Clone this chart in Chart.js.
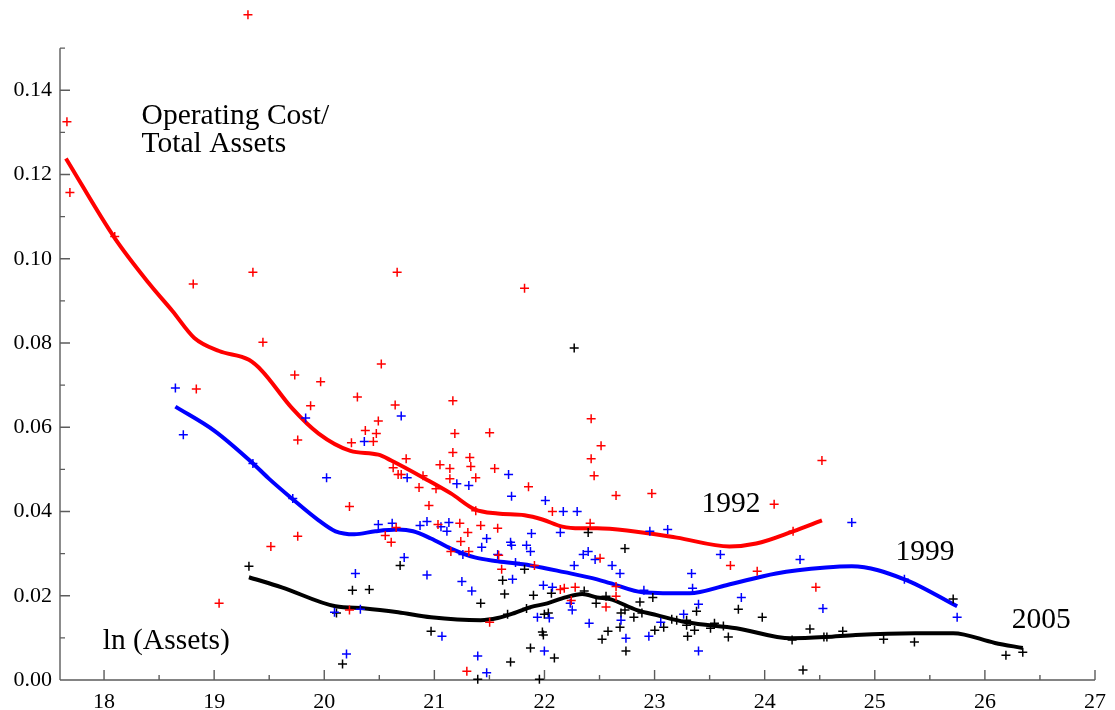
<!DOCTYPE html>
<html>
<head>
<meta charset="utf-8">
<script src="https://cdn.jsdelivr.net/npm/chart.js@4.4.1/dist/chart.umd.min.js"></script>
<style>
  html, body { margin: 0; padding: 0; background: #ffffff; }
  #wrap { width: 1115px; height: 710px; }
</style>
</head>
<body>
<div id="wrap"><canvas id="c" width="1115" height="710"></canvas></div>
<script>
// ---------- data ----------
const xTicks = [18, 19, 20, 21, 22, 23, 24, 25, 26, 27];
const yTicks = [0, 0.02, 0.04, 0.06, 0.08, 0.10, 0.12, 0.14];

// 1992 scatter
const pts1992X = [17.663,17.690,18.097,18.810,18.838,19.045,19.307,19.352,19.443,19.515,19.732,19.759,19.759,19.876,19.967,20.229,20.229,20.247,20.301,20.373,20.446,20.473,20.491,20.518,20.644,20.554,20.608,20.626,20.653,20.671,20.699,20.662,20.744,20.861,20.897,20.951,21.015,21.033,21.051,21.141,21.141,21.150,21.168,21.168,21.186,21.231,21.240,21.304,21.313,21.322,21.331,21.295,21.376,21.376,21.421,21.502,21.502,21.548,21.575,21.584,21.611,21.819,21.855,21.909,22.072,22.144,22.180,22.243,22.279,22.415,22.424,22.424,22.451,22.505,22.514,22.559,22.650,22.650,22.650,22.975,23.689,23.932,24.086,24.258,24.465,24.520];
const pts1992Y = [0.1325,0.1157,0.1053,0.0940,0.0691,0.0182,0.1579,0.0968,0.0802,0.0317,0.0724,0.0570,0.0341,0.0651,0.0708,0.0412,0.0166,0.0563,0.0672,0.0592,0.0566,0.0585,0.0615,0.0750,0.0653,0.0343,0.0327,0.0504,0.0362,0.0488,0.0488,0.0968,0.0525,0.0457,0.0485,0.0414,0.0454,0.0369,0.0511,0.0502,0.0478,0.0305,0.0663,0.0540,0.0585,0.0372,0.0329,0.0350,0.0305,0.0528,0.0507,0.0021,0.0402,0.0480,0.0367,0.0587,0.0137,0.0502,0.0360,0.0296,0.0263,0.0930,0.0459,0.0272,0.0400,0.0215,0.0218,0.0189,0.0220,0.0372,0.0620,0.0525,0.0485,0.0289,0.0556,0.0173,0.0222,0.0199,0.0438,0.0443,0.0272,0.0258,0.0417,0.0353,0.0220,0.0521];

// 1999 scatter
const pts1999X = [18.648,18.720,19.352,19.714,19.831,20.021,20.093,20.202,20.283,20.328,20.364,20.491,20.617,20.699,20.726,20.753,20.870,20.933,20.933,21.060,21.069,21.114,21.132,21.204,21.250,21.259,21.313,21.340,21.394,21.430,21.475,21.475,21.575,21.674,21.692,21.701,21.701,21.710,21.737,21.837,21.873,21.882,21.936,21.990,21.999,22.008,22.044,22.072,22.144,22.171,22.234,22.252,22.270,22.297,22.352,22.397,22.406,22.460,22.614,22.686,22.695,22.740,22.903,22.948,22.957,23.056,23.119,23.264,23.336,23.345,23.399,23.399,23.598,23.788,24.321,24.529,24.791,25.269,25.748];
const pts1999Y = [0.0693,0.0582,0.0514,0.0431,0.0622,0.0480,0.0161,0.0062,0.0253,0.0168,0.0566,0.0369,0.0372,0.0627,0.0291,0.0480,0.0367,0.0376,0.0249,0.0364,0.0104,0.0353,0.0374,0.0466,0.0234,0.0298,0.0462,0.0211,0.0057,0.0315,0.0336,0.0017,0.0298,0.0488,0.0327,0.0320,0.0436,0.0239,0.0279,0.0320,0.0305,0.0348,0.0149,0.0225,0.0069,0.0426,0.0147,0.0220,0.0350,0.0400,0.0182,0.0166,0.0272,0.0400,0.0298,0.0305,0.0135,0.0286,0.0272,0.0253,0.0142,0.0099,0.0213,0.0104,0.0353,0.0137,0.0357,0.0156,0.0253,0.0218,0.0180,0.0069,0.0298,0.0196,0.0286,0.0170,0.0374,0.0239,0.0149];

// 2005 scatter
const pts2005X = [19.316,20.111,20.166,20.256,20.409,20.689,20.970,21.394,21.421,21.620,21.638,21.665,21.692,21.819,21.837,21.873,21.900,21.954,21.981,21.990,21.999,22.035,22.063,22.090,22.270,22.361,22.397,22.469,22.523,22.559,22.577,22.686,22.695,22.731,22.731,22.740,22.812,22.867,22.885,22.984,23.002,23.083,23.156,23.201,23.291,23.291,23.300,23.363,23.381,23.508,23.544,23.625,23.670,23.761,23.978,24.249,24.348,24.411,24.538,24.565,24.709,25.080,25.360,25.712,26.191,26.344];
const pts2005Y = [0.0270,0.0159,0.0038,0.0213,0.0215,0.0272,0.0116,0.0002,0.0182,0.0237,0.0204,0.0156,0.0043,0.0263,0.0170,0.0076,0.0201,0.0002,0.0114,0.0107,0.0156,0.0159,0.0206,0.0052,0.0788,0.0211,0.0350,0.0182,0.0097,0.0199,0.0116,0.0125,0.0159,0.0312,0.0166,0.0069,0.0149,0.0185,0.0159,0.0196,0.0118,0.0125,0.0144,0.0142,0.0142,0.0130,0.0104,0.0118,0.0163,0.0123,0.0135,0.0128,0.0102,0.0168,0.0149,0.0095,0.0024,0.0121,0.0102,0.0102,0.0116,0.0097,0.0090,0.0192,0.0059,0.0066];

// smoothed fits
const fit1992X = [17.654,18.097,18.413,18.621,18.820,19.045,19.316,19.434,19.705,19.949,20.238,20.491,20.608,20.915,21.150,21.367,21.575,21.819,21.981,22.162,22.325,22.478,22.749,23.201,23.680,23.923,24.258,24.520];
const fit1992Y = [0.1238,0.1049,0.0940,0.0876,0.0812,0.0781,0.0760,0.0734,0.0646,0.0585,0.0544,0.0535,0.0521,0.0478,0.0443,0.0405,0.0395,0.0391,0.0381,0.0364,0.0360,0.0360,0.0355,0.0338,0.0317,0.0324,0.0353,0.0379];

const fit1999X = [18.648,19.000,19.353,19.497,19.705,19.949,20.102,20.274,20.464,20.671,20.807,20.969,21.150,21.367,21.575,21.873,22.180,22.478,22.596,22.903,23.318,23.652,24.104,24.556,24.791,25.269,25.748];
const fit1999Y = [0.0649,0.0592,0.0514,0.0478,0.0431,0.0379,0.0353,0.0346,0.0353,0.0357,0.0353,0.0336,0.0312,0.0291,0.0282,0.0272,0.0256,0.0239,0.0230,0.0208,0.0206,0.0225,0.0253,0.0267,0.0270,0.0239,0.0175];

const fit2005X = [19.316,19.614,20.102,20.373,20.671,20.969,21.421,21.575,21.728,21.873,22.026,22.189,22.343,22.478,22.596,22.840,23.020,23.291,23.743,24.240,24.556,24.827,25.369,25.712,26.091,26.344];
const fit2005Y = [0.0244,0.0220,0.0175,0.0170,0.0161,0.0149,0.0142,0.0147,0.0159,0.0173,0.0182,0.0196,0.0204,0.0196,0.0192,0.0166,0.0154,0.0137,0.0123,0.0099,0.0102,0.0107,0.0111,0.0111,0.0088,0.0076];

// text labels: [text, x, baseline y] in data units
const labels = [
  ['Operating Cost/', 18.341, 0.1321],
  ['Total Assets', 18.341, 0.1254],
  ['1992', 23.427, 0.0400],
  ['1999', 25.188, 0.0284],
  ['2005', 26.245, 0.0123],
  ['ln (Assets)', 17.988, 0.0073]
];

// ---------- chart ----------
const SERIF = '"Liberation Serif", "Times New Roman", serif';
const AXIS_COLOR = '#5c5c5c';
const zip = (xs, ys) => xs.map((x, i) => ({ x: x, y: ys[i] }));

function ptsSet(xs, ys, color) {
  return { data: zip(xs, ys), showLine: false, pointStyle: 'cross', pointRadius: 4.5,
           pointBorderColor: color, borderColor: color, pointBorderWidth: 1.5,
           pointHoverRadius: 4.5, clip: false, order: 0 };
}
function fitSet(xs, ys, color) {
  return { data: zip(xs, ys), showLine: true, pointRadius: 0, borderColor: color,
           borderWidth: 4, cubicInterpolationMode: 'monotone', fill: false,
           borderCapStyle: 'butt', borderJoinStyle: 'round', clip: false, order: 1 };
}

const axesPlugin = {
  id: 'mmaAxes',
  beforeDatasetsDraw(chart) {
    const ctx = chart.ctx, xs = chart.scales.x, ys = chart.scales.y;
    const x0 = xs.left, y0 = ys.getPixelForValue(0);
    ctx.save();
    ctx.strokeStyle = AXIS_COLOR;
    ctx.lineWidth = 1.4;
    ctx.beginPath();
    ctx.moveTo(x0, y0); ctx.lineTo(xs.getPixelForValue(27), y0);
    ctx.moveTo(x0, y0); ctx.lineTo(x0, ys.getPixelForValue(0.15));
    for (let v = 18; v <= 27.001; v += 0.5) {
      const p = xs.getPixelForValue(v);
      const len = Math.abs(v - Math.round(v)) < 1e-6 ? 10 : 5;
      ctx.moveTo(p, y0); ctx.lineTo(p, y0 - len);
    }
    for (let k = 1; k <= 15; k++) {
      const v = k * 0.01;
      const p = ys.getPixelForValue(v);
      const len = (k % 2 === 0) ? 10 : 5;
      ctx.moveTo(x0, p); ctx.lineTo(x0 + len, p);
    }
    ctx.stroke();
    ctx.restore();
  },
  afterDatasetsDraw(chart) {
    const ctx = chart.ctx, xs = chart.scales.x, ys = chart.scales.y;
    ctx.save();
    ctx.fillStyle = '#000';
    ctx.font = '29.5px ' + SERIF;
    ctx.textAlign = 'left';
    ctx.textBaseline = 'alphabetic';
    labels.forEach(([t, x, y]) => ctx.fillText(t, xs.getPixelForValue(x), ys.getPixelForValue(y)));
    ctx.restore();
  }
};

new Chart(document.getElementById('c'), {
  type: 'scatter',
  data: {
    datasets: [
      ptsSet(pts1992X, pts1992Y, '#ff0000'),
      ptsSet(pts1999X, pts1999Y, '#0000ff'),
      ptsSet(pts2005X, pts2005Y, '#000000'),
      fitSet(fit1992X, fit1992Y, '#ff0000'),
      fitSet(fit1999X, fit1999Y, '#0000ff'),
      fitSet(fit2005X, fit2005Y, '#000000')
    ]
  },
  options: {
    responsive: false,
    animation: false,
    devicePixelRatio: 1,
    layout: { padding: { top: 4, right: 14, left: 0, bottom: 0 } },
    plugins: { legend: { display: false }, tooltip: { enabled: false } },
    events: [],
    scales: {
      x: {
        type: 'linear', min: 17.6, max: 27,
        afterBuildTicks: s => { s.ticks = xTicks.map(v => ({ value: v })); },
        afterFit: s => { s.height = 30; s.paddingLeft = 0; },
        grid: { display: false, drawTicks: false },
        border: { display: false },
        ticks: { color: '#000', font: { family: SERIF, size: 22 }, padding: 9,
                 maxRotation: 0, autoSkip: false, callback: v => String(v) }
      },
      y: {
        type: 'linear', min: 0, max: 0.16,
        afterBuildTicks: s => { s.ticks = yTicks.map(v => ({ value: v })); },
        afterFit: s => { s.width = 60; s.paddingTop = 0; s.paddingBottom = 0; },
        grid: { display: false, drawTicks: false },
        border: { display: false },
        ticks: { color: '#000', font: { family: SERIF, size: 22 }, padding: 8,
                 autoSkip: false, callback: v => v.toFixed(2) }
      }
    }
  },
  plugins: [axesPlugin]
});
</script>
</body>
</html>
